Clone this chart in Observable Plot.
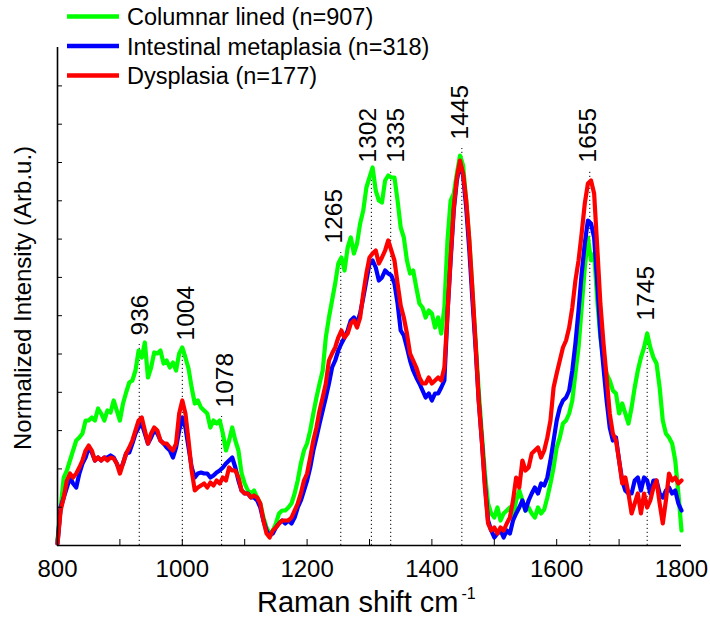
<!DOCTYPE html>
<html><head><meta charset="utf-8">
<script src="https://cdn.jsdelivr.net/npm/d3@7"></script>
<script src="https://cdn.jsdelivr.net/npm/@observablehq/plot@0.6"></script>
<style>
html,body{margin:0;padding:0;background:#fff;}
#wrap{position:relative;width:710px;height:621px;}
</style></head><body><div id="wrap"></div>
<script>
// Raman shift grid (cm^-1), 5 cm^-1 step
const wavenumbers = d3.range(800, 1805, 5);

// Normalized intensity (arbitrary units)
const columnar = [
  5, 38, 68, 75, 85, 95, 105, 108, 112, 125,
  125, 128, 125, 137, 132, 125, 135, 133, 145, 135,
  125, 142, 153, 163, 165, 175, 195, 188, 203, 168,
  178, 193, 192, 195, 182, 185, 178, 183, 175, 192,
  198, 188, 177, 158, 142, 145, 138, 135, 132, 118,
  125, 122, 125, 112, 95, 105, 118, 105, 95, 72,
  62, 55, 52, 55, 48, 42, 28, 18, 12, 15,
  22, 32, 35, 35, 38, 42, 52, 65, 82, 95,
  102, 115, 132, 148, 162, 175, 208, 228, 245, 262,
  282, 288, 275, 298, 308, 292, 302, 322, 335, 358,
  368, 378, 355, 345, 343, 365, 370, 368, 368, 345,
  318, 308, 285, 272, 275, 258, 242, 238, 228, 235,
  232, 218, 228, 212, 238, 305, 345, 352, 372, 390,
  380, 345, 305, 255, 205, 155, 112, 72, 42, 32,
  28, 38, 25, 32, 35, 38, 28, 45, 55, 45,
  35, 38, 32, 28, 38, 32, 36, 48, 62, 78,
  98, 108, 122, 125, 132, 145, 172, 198, 238, 278,
  308, 285, 292, 245, 208, 185, 172, 165, 155, 152,
  132, 142, 132, 122, 138, 158, 175, 188, 198, 212,
  198, 188, 182, 158, 125, 112, 108, 102, 85, 52,
  15
];
const intestinal = [
  2, 38, 48, 58, 68, 62, 58, 72, 82, 88,
  98, 93, 85, 88, 85, 88, 88, 90, 88, 82,
  75, 82, 92, 93, 102, 112, 118, 122, 112, 102,
  108, 115, 112, 105, 102, 98, 95, 88, 98, 115,
  128, 118, 98, 78, 68, 72, 73, 72, 72, 68,
  70, 73, 75, 78, 82, 85, 88, 78, 65, 55,
  52, 52, 48, 48, 45, 38, 25, 15, 10, 12,
  18, 22, 25, 22, 25, 22, 28, 38, 45, 55,
  65, 78, 95, 108, 122, 135, 148, 162, 178, 185,
  195, 202, 208, 215, 225, 228, 222, 232, 248, 265,
  282, 285, 278, 265, 268, 275, 272, 270, 262, 242,
  215, 210, 198, 185, 175, 168, 162, 155, 148, 152,
  145, 152, 152, 158, 165, 232, 285, 335, 365, 382,
  370, 338, 295, 245, 198, 145, 105, 62, 25, 15,
  8, 12, 15, 8, 15, 12, 25, 32, 38, 45,
  35, 45, 52, 58, 52, 62, 60, 68, 85, 105,
  125, 138, 145, 148, 155, 175, 202, 235, 272, 302,
  325, 322, 308, 262, 212, 178, 145, 118, 105, 108,
  85, 65, 55, 52, 52, 65, 68, 55, 68, 65,
  52, 65, 65, 52, 48, 55, 58, 52, 55, 42,
  35
];
const dysplasia = [
  2, 35, 48, 65, 72, 68, 72, 78, 85, 95,
  100, 95, 85, 88, 85, 88, 85, 88, 87, 82,
  72, 82, 92, 98, 105, 115, 125, 128, 115, 102,
  112, 118, 115, 105, 102, 102, 98, 95, 102, 132,
  145, 132, 105, 75, 55, 58, 60, 62, 58, 63,
  60, 65, 62, 68, 65, 78, 75, 75, 68, 55,
  52, 52, 48, 50, 48, 42, 25, 12, 8, 15,
  18, 22, 25, 25, 25, 28, 35, 42, 52, 65,
  72, 88, 105, 118, 135, 148, 162, 185, 192, 198,
  208, 215, 208, 212, 222, 225, 218, 228, 252, 272,
  288, 292, 295, 282, 288, 295, 305, 295, 285, 262,
  240, 228, 212, 192, 185, 178, 168, 162, 162, 168,
  162, 165, 168, 165, 178, 232, 288, 338, 368, 385,
  372, 345, 305, 255, 202, 145, 105, 58, 22, 15,
  18, 12, 18, 15, 22, 28, 45, 68, 58, 85,
  75, 78, 92, 95, 98, 88, 95, 108, 125, 158,
  172, 185, 198, 205, 218, 238, 265, 285, 312, 342,
  362, 365, 352, 298, 242, 202, 168, 132, 112, 105,
  85, 62, 68, 52, 32, 42, 52, 32, 52, 38,
  45, 58, 65, 42, 22, 45, 72, 65, 68, 62,
  65
];

const seriesNames = ["Columnar lined (n=907)", "Intestinal metaplasia (n=318)", "Dysplasia (n=177)"];
const seriesColors = ["#00ff00", "#0000ff", "#ff0000"];

// Peak annotations
const peakLabels = ["936", "1004", "1078", "1265", "1302", "1335", "1445", "1655", "1745"];
const peakLinePos = [931, 1000, 1063, 1254, 1303, 1334, 1448, 1653, 1745];
const peakLabelPos = [933, 1006, 1069, 1243, 1298, 1342, 1446, 1650, 1743];
const peakLabelHeight = [210, 205, 138, 302, 383, 383, 406, 383, 225];

const xTickMarks = [900, 1000, 1100, 1200, 1300, 1400, 1500, 1600, 1700];
const xTickLabels = [800, 1000, 1200, 1400, 1600, 1800];
const yTickMarks = [38.3, 76.6, 114.9, 153.2, 191.5, 229.8, 268.1, 306.4, 344.7, 383, 421.3, 459.6];

const allSeries = [columnar, intestinal, dysplasia];
const lineData = allSeries.map((arr, k) => wavenumbers.map((w, i) => ({w, v: arr[i], s: seriesNames[k]})));
const peaks = peakLabels.map((t, i) => ({label: t, pos: peakLinePos[i], lpos: peakLabelPos[i], h: peakLabelHeight[i]}));

const FONT = "'Liberation Sans', Arial, Helvetica, sans-serif";

const chart = Plot.plot({
  width: 710, height: 621,
  marginLeft: 57, marginRight: 29, marginTop: 47, marginBottom: 76,
  x: {domain: [800, 1800], axis: null},
  y: {domain: [0, 498], axis: null},
  style: {fontFamily: FONT, background: "white", color: "black", overflow: "visible"},
  marks: [
    Plot.ruleX(peaks, {x: "pos", y1: 0, y2: d => d.h - 9, stroke: "black", strokeWidth: 1, strokeDasharray: "1.2,2.8"}),
    ...lineData.map((d, k) => Plot.lineY(d, {x: "w", y: "v", stroke: seriesColors[k], strokeWidth: 4.2, strokeLinejoin: "round"})),
    Plot.text(peaks, {x: "lpos", y: "h", text: "label", rotate: -90, textAnchor: "start", fontSize: 24.5, fill: "black"}),
    Plot.ruleY([0], {stroke: "black", strokeWidth: 1.6}),
    Plot.ruleX([800], {y1: 0, y2: 498, stroke: "black", strokeWidth: 1.6}),
    Plot.ruleX(xTickMarks, {y1: 0, y2: 6, stroke: "black", strokeWidth: 1}),
    Plot.ruleY(yTickMarks, {x1: 800, x2: 808, stroke: "black", strokeWidth: 1}),
    Plot.axisX(xTickLabels, {tickSize: 0, tickPadding: 14, fontSize: 24, label: null, tickFormat: d => String(d)})
  ]
});

document.getElementById("wrap").appendChild(chart);
const svg = d3.select(chart);

// x label with superscript
const xl = svg.append("text")
  .attr("x", 257).attr("y", 612)
  .attr("text-anchor", "start")
  .attr("font-family", FONT).attr("font-size", 29).attr("fill", "black");
xl.append("tspan").text("Raman shift cm");
xl.append("tspan").attr("font-size", 16).attr("dx", 3).attr("dy", -13).text("-1");

// y label
svg.append("text")
  .attr("transform", "translate(31,298) rotate(-90)")
  .attr("text-anchor", "middle")
  .attr("font-family", FONT).attr("font-size", 24).attr("fill", "black")
  .text("Normalized Intensity (Arb.u.)");

// legend
const lg = svg.append("g").attr("text-anchor", "start");
seriesNames.forEach((name, i) => {
  const yb = 25 + 29.5 * i;
  lg.append("line").attr("x1", 67).attr("x2", 119).attr("y1", yb - 8.5).attr("y2", yb - 8.5)
    .attr("stroke", seriesColors[i]).attr("stroke-width", 4.5);
  lg.append("text").attr("x", 127).attr("y", yb).attr("text-anchor", "start")
    .attr("font-family", FONT).attr("font-size", 23.5).attr("fill", "black").text(name);
});
</script></body></html>
